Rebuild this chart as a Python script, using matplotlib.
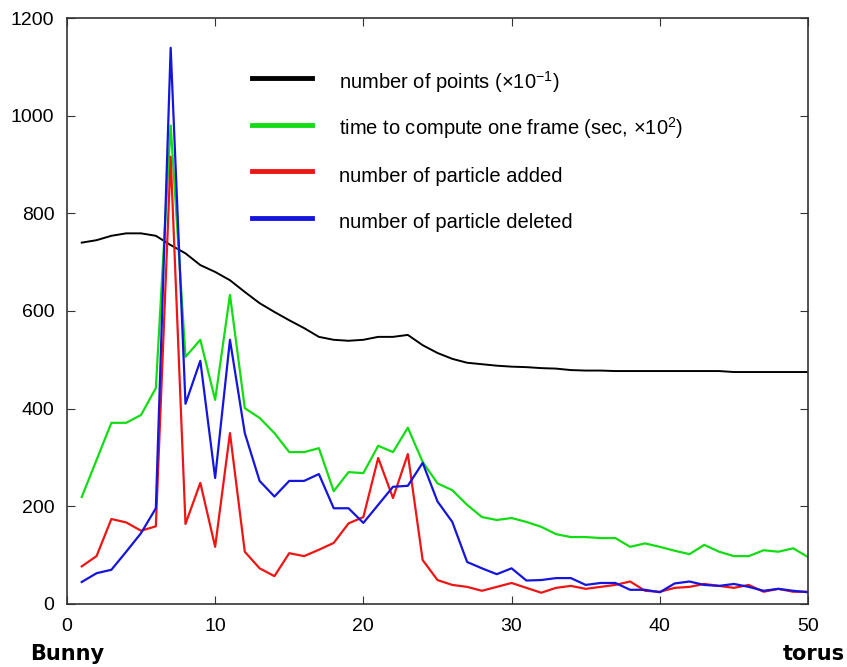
import numpy as np
import matplotlib
matplotlib.use('Agg')
import matplotlib.pyplot as plt

# frame index (Bunny -> torus morph)
frames = np.arange(1, 51)

points = [740, 745, 754, 759, 759, 754, 735, 718, 694, 680,
          663, 639, 616, 598, 581, 565, 547, 541, 539, 541,
          547, 547, 551, 530, 514, 502, 494, 491, 488, 486,
          485, 483, 482, 479, 478, 478, 477, 477, 477, 477,
          477, 477, 477, 477, 475, 475, 475, 475, 475, 475]

time_frame = [219, 295, 371, 371, 387, 442, 980, 506, 541, 418,
              633, 401, 381, 350, 311, 311, 319, 231, 270, 268,
              324, 311, 361, 291, 247, 233, 203, 178, 172, 176,
              168, 158, 143, 137, 137, 135, 135, 117, 124, 117,
              109, 102, 121, 107, 98, 98, 110, 107, 114, 96]

added = [77, 98, 174, 167, 150, 159, 916, 164, 248, 117,
         350, 107, 73, 57, 104, 98, 111, 125, 165, 178,
         299, 217, 307, 90, 49, 39, 35, 27, 35, 43,
         33, 23, 33, 37, 31, 35, 39, 46, 27, 25,
         33, 35, 41, 37, 33, 39, 25, 31, 25, 25]

deleted = [45, 63, 70, 107, 145, 196, 1139, 410, 498, 258,
           541, 350, 252, 220, 252, 252, 266, 196, 196, 166,
           203, 240, 242, 289, 210, 168, 86, 73, 61, 73,
           48, 49, 53, 53, 39, 43, 43, 29, 29, 24,
           42, 46, 39, 37, 41, 35, 27, 31, 27, 24]

labels = ['number of points ($\\times$10$^{-1}$)',
          'time to compute one frame (sec, $\\times$10$^{2}$)',
          'number of particle added',
          'number of particle deleted']
colors = ['black', '#12dd12', '#ee1515', '#1515dd']
series = [points, time_frame, added, deleted]

plt.rcParams['font.family'] = ['Liberation Sans', 'DejaVu Sans']
plt.rcParams['mathtext.fontset'] = 'custom'
plt.rcParams['mathtext.rm'] = 'Liberation Sans'

fig = plt.figure(figsize=(8.47, 6.67), dpi=100)
ax = fig.add_axes([0.079, 0.0945, 0.875, 0.8785])

for s, c, lab in zip(series, colors, labels):
    lw = 1.4 if c == 'black' else 1.6
    ax.plot(frames, s, color=c, lw=lw, label=lab)

ax.set_xlim(0, 50)
ax.set_ylim(0, 1200)
ax.set_xticks(range(0, 51, 10))
ax.set_yticks(range(0, 1201, 200))
ax.tick_params(direction='in', length=6, top=True, right=True,
               labelsize=14, colors='#333333', labelcolor='black')
ax.tick_params(axis='x', pad=10)
ax.tick_params(axis='y', pad=9)
for sp in ax.spines.values():
    sp.set_linewidth(1.2)
    sp.set_color('#333333')

leg = ax.legend(loc='upper left', bbox_to_anchor=(0.225, 0.946), frameon=False,
                fontsize=14.5, handlelength=3.0, handletextpad=1.35,
                handleheight=1.8, labelspacing=0.9)
for h in leg.legend_handles:
    h.set_linewidth(3.5)

fig.text(0.035, 0.01, 'Bunny', fontsize=15, fontweight='bold',
         family='DejaVu Sans')
fig.text(0.998, 0.01, 'torus', fontsize=15, fontweight='bold',
         ha='right', family='DejaVu Sans')

fig.savefig('out.png', dpi=100)
